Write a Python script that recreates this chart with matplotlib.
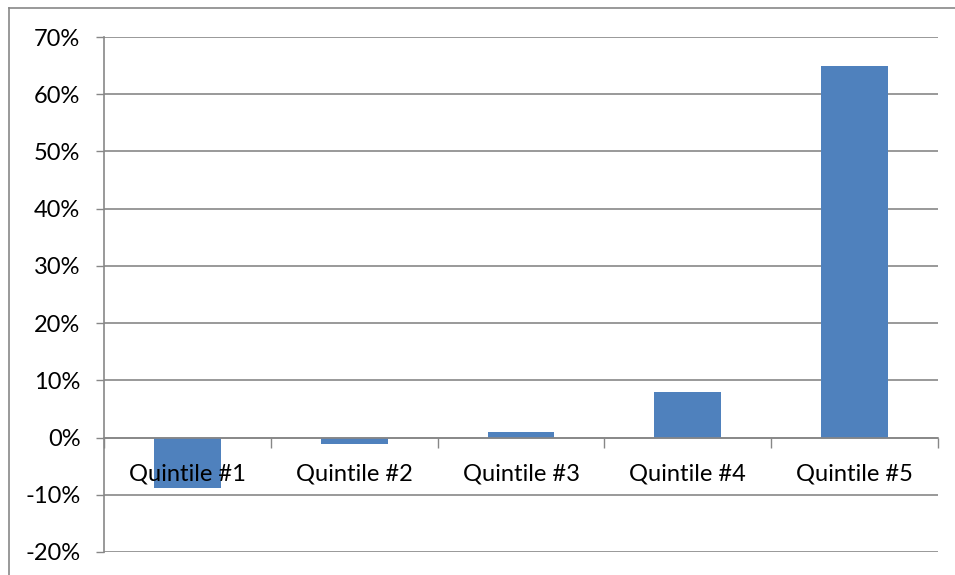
import matplotlib.pyplot as plt
from matplotlib.lines import Line2D
from matplotlib.ticker import FuncFormatter, FixedLocator

quintiles = ["Quintile #1", "Quintile #2", "Quintile #3", "Quintile #4", "Quintile #5"]
returns = [-8.9, -1.1, 1.0, 8.0, 65.0]  # percent
y_ticks = [-20, -10, 0, 10, 20, 30, 40, 50, 60, 70]

plt.rcParams["font.family"] = ["Lato", "DejaVu Sans"]

fig = plt.figure(figsize=(9.55, 5.75), dpi=100)
ax = fig.add_axes([104 / 955, 23 / 575, 834 / 955, 515 / 575])

grid_col = "#878787"
bar_col = "#4F81BD"
text_col = "#000000"

x = list(range(len(quintiles)))
ax.bar(x, returns, width=0.4, color=bar_col, zorder=3)

ax.set_xlim(-0.5, len(quintiles) - 0.5)
ax.set_ylim(-20, 70)
ax.set_yticks(y_ticks)
ax.yaxis.set_major_formatter(FuncFormatter(lambda v, p: "%d%%" % v))
ax.yaxis.grid(True, color=grid_col, linewidth=1.2, zorder=0)
ax.tick_params(axis="y", length=6, width=1, color=grid_col, pad=11,
               labelsize=17, labelcolor=text_col)

# category axis sits on the zero line, ticks between categories
ax.spines["bottom"].set_position(("data", 0))
ax.spines["bottom"].set_color(grid_col)
ax.spines["bottom"].set_linewidth(1.2)
ax.spines["bottom"].set_zorder(4)
ax.spines["left"].set_color(grid_col)
ax.spines["left"].set_linewidth(1.2)
ax.spines["top"].set_visible(False)
ax.spines["right"].set_visible(False)

ax.set_xticks(x)
ax.set_xticklabels([])
ax.xaxis.set_minor_locator(FixedLocator([i + 0.5 for i in range(-1, len(quintiles))]))
ax.tick_params(axis="x", which="major", length=0)
ax.tick_params(axis="x", which="minor", length=7, width=1, color=grid_col)

# category names drawn over the bars
for i, name in zip(x, quintiles):
    ax.annotate(name, (i, 0), xytext=(0, -26.5), textcoords="offset points",
                ha="center", va="center", fontsize=17, color=text_col, zorder=6)

# outer chart border
fig.add_artist(Line2D([9 / 955, 1], [1 - 8 / 575, 1 - 8 / 575],
                      transform=fig.transFigure, color=grid_col, linewidth=1.2))
fig.add_artist(Line2D([9 / 955, 9 / 955], [0, 1 - 8 / 575],
                      transform=fig.transFigure, color=grid_col, linewidth=1.2))

fig.savefig("out.png", dpi=100)
